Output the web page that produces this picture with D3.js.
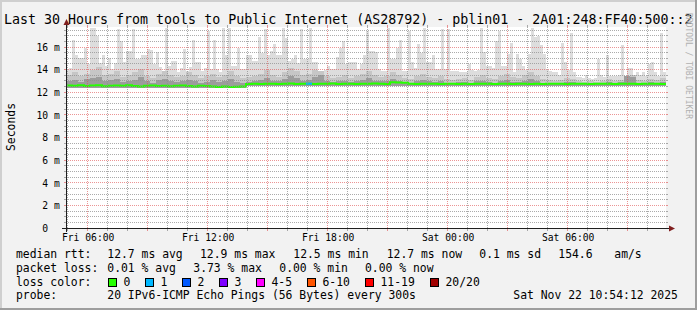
<!DOCTYPE html>
<html><head><meta charset="utf-8">
<script src="https://cdn.jsdelivr.net/npm/d3@7"></script>
<style>
html,body{margin:0;padding:0;background:#f2f2f2;}
svg{display:block;}
text{font-family:"DejaVu Sans Mono",monospace;fill:#000;}
</style></head><body>
<svg id="c" width="697" height="310"></svg>
<script>
// ---------------- data ----------------
const title = "Last 30 Hours from tools to Public Internet (AS28792) - pblin01 - 2A01:248:FF40:500::2";
const yAxisTitle = "Seconds";
const watermark = "RRDTOOL / TOBI OETIKER";
const endTime = Date.UTC(2025, 10, 22, 10, 55, 0);
const spanHours = 30;
const yMax = 17.77;                 // ms
const yTickValues = [0, 2, 4, 6, 8, 10, 12, 14, 16];
const yTickLabels = ["0", "2 m", "4 m", "6 m", "8 m", "10 m", "12 m", "14 m", "16 m"];
const xLabelEveryHours = 6;

// max ping (outer smoke), one value per 9 minutes, ms
const smokeMax = [
 14.0,14.2,16.7,15.3,15.1,15.1,16.0,14.5,17.7,17.7,
 17.0,14.6,15.3,14.4,15.1,14.1,14.6,17.6,16.6,14.7,
 15.7,15.7,17.6,15.0,15.0,15.3,15.3,15.9,15.8,14.5,
 15.6,14.3,13.9,17.7,14.4,14.8,14.8,13.8,14.2,15.9,
 13.9,14.3,16.7,14.7,14.7,13.9,14.2,17.5,14.1,16.7,
 14.1,13.8,17.7,15.3,17.7,14.4,14.4,16.0,14.1,14.1,
 15.3,15.3,14.8,14.8,16.9,15.5,17.6,15.3,15.7,16.3,
 15.3,15.3,17.7,16.8,14.8,15.0,15.3,14.6,17.6,15.0,
 15.0,17.7,14.7,14.7,13.9,13.9,14.0,14.4,14.1,14.1,
 15.2,16.0,16.6,14.5,14.7,14.7,14.7,14.1,14.5,15.3,
 17.5,15.7,15.7,15.6,14.1,13.9,13.9,17.7,15.0,15.0,
 16.0,16.7,13.9,13.9,17.5,14.7,14.2,16.3,15.5,17.7,
 14.7,14.7,15.3,14.1,14.1,17.6,14.1,17.6,13.9,13.9,
 13.9,13.8,13.8,13.8,14.5,14.0,13.9,14.0,17.7,15.6,
 14.4,14.4,14.2,16.6,17.5,14.4,14.4,15.4,16.4,13.8,
 15.4,15.0,14.4,14.0,15.4,17.7,16.9,17.0,16.2,15.4,
 14.0,13.9,13.8,13.8,13.6,16.4,14.7,14.0,17.3,13.8,
 13.4,13.4,13.3,13.6,13.3,13.2,13.3,15.0,13.6,13.4,
 15.3,13.5,13.5,13.5,13.6,16.2,13.5,14.2,14.2,13.6,
 13.8,13.6,13.8,13.5,14.5,14.7,13.8,13.5,17.3,13.8
];
// inner smoke layers, one value per 18 minutes, ms
const smokeMid = [
 13.6,13.8,13.5,13.7,14.0,14.3,13.6,13.7,13.9,13.4,
 13.6,13.8,14.1,13.5,13.3,13.7,13.9,13.6,13.4,13.5,
 13.8,13.6,13.3,13.5,13.7,13.4,13.6,13.9,13.5,13.3,
 13.4,13.5,13.7,14.0,13.6,13.4,13.8,14.2,13.9,13.6,
 13.7,14.0,14.1,13.5,13.3,13.4,13.6,13.3,13.5,13.7,
 13.9,13.6,13.4,13.5,13.8,13.6,13.3,13.2,13.5,13.7,
 13.4,13.3,13.5,13.2,13.1,13.2,13.3,13.1,13.4,13.6,
 13.3,13.2,13.5,13.7,13.4,13.3,13.6,13.8,13.5,13.2,
 13.1,13.0,13.1,13.3,13.2,13.0,12.95,13.0,12.95,13.0,
 13.2,13.0,13.1,14.0,13.6,13.1,13.0,13.2,13.1,13.3
];
const smokeDark = [
 13.0,13.1,12.95,13.2,13.3,13.4,13.0,13.1,13.2,12.95,
 13.0,13.1,13.4,13.0,12.9,13.1,13.2,13.0,12.95,13.0,
 13.1,13.0,12.9,12.95,13.1,12.95,13.0,13.2,12.95,12.9,
 12.95,13.0,13.15,13.3,13.05,13.0,13.2,13.5,13.3,13.05,
 13.1,13.4,13.6,13.05,12.95,13.0,13.05,12.95,13.0,13.15,
 13.3,13.05,13.0,13.0,13.2,13.05,12.95,12.9,13.0,13.1,
 13.0,12.95,13.0,12.9,12.9,12.95,12.95,12.9,13.0,13.05,
 12.95,12.9,13.0,13.15,12.95,12.95,13.05,13.2,13.0,12.9,
 12.9,12.9,12.9,12.95,12.95,12.9,12.9,12.9,12.9,12.9,
 12.95,12.9,12.95,13.8,13.4,12.9,12.9,12.95,12.9,12.95
];
// min ping, one value per 3 hours, ms
const smokeMin = [12.45,12.45,12.4,12.6,12.6,12.6,12.6,12.6,12.6,12.6];
// median rtt, one value per 18 minutes, ms
const medianRtt = [
 12.65,12.62,12.66,12.60,12.64,12.66,12.58,12.63,12.65,12.62,
 12.66,12.60,12.55,12.62,12.65,12.60,12.63,12.58,12.62,12.65,
 12.60,12.56,12.62,12.60,12.55,12.52,12.56,12.50,12.53,12.55,
 12.78,12.80,12.77,12.79,12.80,12.78,12.80,12.81,12.78,12.79,
 12.80,12.77,12.79,12.80,12.82,12.78,12.80,12.79,12.78,12.80,
 12.79,12.81,12.80,12.78,12.92,12.90,12.88,12.80,12.78,12.80,
 12.79,12.80,12.78,12.80,12.79,12.77,12.80,12.78,12.80,12.79,
 12.80,12.78,12.79,12.80,12.78,12.80,12.79,12.77,12.80,12.78,
 12.80,12.79,12.80,12.78,12.80,12.79,12.80,12.78,12.80,12.79,
 12.80,12.78,12.80,12.79,12.80,12.78,12.80,12.79,12.80,12.78
];
// lost pings (of 20), one value per 18 minutes
const lostPings = [
 0,0,0,0,0,0,0,0,0,0, 0,0,0,0,0,0,0,0,0,0,
 0,0,0,0,0,0,0,0,0,0, 0,0,0,0,0,0,0,0,0,0,
 1,0,0,0,0,0,0,0,0,0, 0,0,0,0,0,0,0,0,0,0,
 0,0,0,0,0,0,0,0,0,0, 0,0,0,0,0,0,0,0,0,0,
 0,0,0,0,0,0,0,0,0,0, 0,0,0,0,0,0,0,0,0,0
];
const lossLabels = ["0", "1", "2", "3", "4-5", "6-10", "11-19", "20/20"];
const lossUpper  = [0, 1, 2, 3, 5, 10, 19, 20];
const lossColors = ["#26ff00", "#00b8ff", "#0059ff", "#7e00ff", "#ff00ff", "#ff5500", "#ff0000", "#a10000"];
const rttLabel = "median rtt:";
const rttStats = ["12.7 ms avg", "12.9 ms max", "12.5 ms min", "12.7 ms now", "0.1 ms sd", "154.6", "am/s"];
const lossLabel = "packet loss:";
const lossStats = ["0.01 % avg", "3.73 % max", "0.00 % min", "0.00 % now"];
const lossColorLabel = "loss color:";
const probeLabel = "probe:";
const probeText = "20 IPv6-ICMP Echo Pings (56 Bytes) every 300s";
const stampText = "Sat Nov 22 10:54:12 2025";

// ---------------- layout ----------------
const W = 697, H = 310;
const X0 = 66, XS = 600, Y0 = 228, YS = 201;
const svg = d3.select("#c");
const startTime = endTime - spanHours * 3600e3;
const x = d3.scaleUtc().domain([new Date(startTime), new Date(endTime)]).range([X0, X0 + XS]);
const y = d3.scaleLinear().domain([0, yMax]).range([Y0 + 0.5, Y0 + 0.5 - YS]);
const px = v => Math.floor(v) + 0.5;

// background & shades
svg.append("rect").attr("width", W).attr("height", H).attr("fill", "#f2f2f2");
svg.append("path").attr("d", `M0,0H${W}V2H2V${H}H0Z`).attr("fill", "#cfcfcf");
svg.append("path").attr("d", `M${W},${H}H0V${H-2}H${W-2}V0H${W}Z`).attr("fill", "#9e9e9e");
// canvas
svg.append("rect").attr("x", X0).attr("y", Y0 - YS).attr("width", XS).attr("height", YS + 1).attr("fill", "#fff");

const plot = svg.append("g");
function binX(i, n) {
  const step = (endTime - startTime) / n;
  return [x(new Date(startTime + i * step)), x(new Date(startTime + (i + 1) * step))];
}
function drawLayer(arr, color, lowerFn, capArr) {
  const n = arr.length;
  arr.forEach((v, i) => {
    const [a, b] = binX(i, n);
    const tmid = startTime + (i + 0.5) * (endTime - startTime) / n;
    let top = v;
    if (capArr) {
      // never let an inner layer rise above the outer smoke in the same column
      for (let k = 0; k < capArr.length; k++) {
        const [ca, cb] = binX(k, capArr.length);
        if (cb > a && ca < b) top = Math.min(top, capArr[k]);
      }
    }
    const lo = lowerFn(tmid);
    plot.append("rect").attr("x", a).attr("width", b - a)
      .attr("y", y(top)).attr("height", Math.max(0, y(lo) - y(top)))
      .attr("fill", color).attr("shape-rendering", "crispEdges");
  });
}
const minAt = t => smokeMin[Math.min(smokeMin.length - 1, Math.floor((t - startTime) / ((endTime - startTime) / smokeMin.length)))];
drawLayer(smokeMax, "#dddddd", minAt, null);
drawLayer(smokeMid, "#c6c6c6", minAt, smokeMax);
drawLayer(smokeDark, "#9c9c9c", minAt, smokeMax);

// median line, coloured by loss
const nM = medianRtt.length;
const mPts = medianRtt.map((v, i) => [binX(i, nM)[0], y(v)]);
mPts.push([x(new Date(endTime)), y(medianRtt[nM - 1])]);
plot.append("path").attr("d", d3.line().curve(d3.curveStepAfter)(mPts))
  .attr("fill", "none").attr("stroke", lossColors[0]).attr("stroke-width", 2);
lostPings.forEach((l, i) => {
  if (l > 0) {
    const idx = lossUpper.findIndex(u => l <= u);
    const [a, b] = binX(i, nM);
    plot.append("line").attr("x1", a).attr("x2", b).attr("y1", y(medianRtt[i])).attr("y2", y(medianRtt[i]))
      .attr("stroke", lossColors[idx]).attr("stroke-width", 2);
  }
});

// grid
const gMinor = "rgba(143,143,143,0.75)", gMajor = "rgba(222,79,79,0.6)";
const grid = svg.append("g");
d3.range(1, Math.floor(yMax * 2) + 1).map(k => k / 2).forEach(v => {
  const major = v % 2 === 0;
  const yy = px(y(v) - 0.5) ;
  const c = major ? gMajor : gMinor;
  grid.append("line").attr("x1", X0).attr("x2", X0 + XS).attr("y1", yy).attr("y2", yy)
    .attr("stroke", c).attr("stroke-dasharray", "1,1");
  grid.append("line").attr("x1", X0 - 2).attr("x2", X0).attr("y1", yy).attr("y2", yy).attr("stroke", c);
  grid.append("line").attr("x1", X0 + XS).attr("x2", X0 + XS + 2).attr("y1", yy).attr("y2", yy).attr("stroke", c);
});
const hours = d3.utcHour.every(1).range(new Date(startTime), new Date(endTime));
hours.forEach(h => {
  const major = h.getUTCHours() % 3 === 0;
  const xx = px(x(h));
  const c = major ? gMajor : gMinor;
  grid.append("line").attr("x1", xx).attr("x2", xx).attr("y1", Y0 - YS).attr("y2", Y0)
    .attr("stroke", c).attr("stroke-dasharray", "1,1");
  grid.append("line").attr("x1", xx).attr("x2", xx).attr("y1", Y0 + 1).attr("y2", Y0 + 3).attr("stroke", c);
  grid.append("line").attr("x1", xx).attr("x2", xx).attr("y1", Y0 - YS - 2).attr("y2", Y0 - YS).attr("stroke", c);
});

// axes
const axisC = "#1f1f1f", arrowC = "#801f1f";
svg.append("line").attr("x1", X0 - 4).attr("x2", X0 + XS + 4).attr("y1", Y0 + 0.5).attr("y2", Y0 + 0.5).attr("stroke", axisC);
svg.append("line").attr("x1", X0 + 0.5).attr("x2", X0 + 0.5).attr("y1", Y0 + 4).attr("y2", Y0 - YS - 4).attr("stroke", axisC);
svg.append("path").attr("d", `M${X0 + XS + 3},${Y0 - 2.5}L${X0 + XS + 9},${Y0 + 0.5}L${X0 + XS + 3},${Y0 + 3.5}Z`).attr("fill", arrowC);
svg.append("path").attr("d", `M${X0 - 2.5},${Y0 - YS - 2}L${X0 + 0.5},${Y0 - YS - 8}L${X0 + 3.5},${Y0 - YS - 2}Z`).attr("fill", arrowC);

// axis labels
const axisFont = "9.7px";
yTickValues.forEach((v, i) => {
  svg.append("text").attr("x", v === 0 ? 48 : 59.8).attr("y", y(v) + 3.3)
    .attr("text-anchor", "end").attr("font-size", axisFont).text(yTickLabels[i]);
});
d3.utcHour.every(xLabelEveryHours).range(new Date(startTime), new Date(endTime)).forEach(h => {
  svg.append("text").attr("x", x(h) + 0.5).attr("y", 241.3).attr("text-anchor", "middle")
    .attr("font-size", axisFont).text(d3.utcFormat("%a %H:%M")(h));
});
svg.append("text").attr("transform", "translate(14.6,127) rotate(-90)").attr("text-anchor", "middle")
  .attr("font-size", "11.4px").text(yAxisTitle);

// title
svg.append("text").attr("x", 4).attr("y", 24).attr("font-size", "13.3px").text(title);
// watermark
svg.append("text").attr("transform", "translate(685.5,13) rotate(90)").attr("font-size", "8px")
  .style("fill", "#b0b0b0").text(watermark);

// legend
const lf = "11.4px";
const L1 = 258.3, L2 = 272, L3 = 285.7, L4 = 299.4;
const t = (xx, yy, s) => svg.append("text").attr("x", xx).attr("y", yy).attr("font-size", lf).text(s);
t(16, L1, rttLabel);
const rttX = [107.3, 200, 293.3, 386.7, 479.3, 558.3, 614.3];
rttStats.forEach((s, i) => t(rttX[i], L1, s));
t(16, L2, lossLabel);
const lossX = [107.3, 193.3, 279.3, 365];
lossStats.forEach((s, i) => t(lossX[i], L2, s));
t(16, L3, lossColorLabel);
const boxX = [108.5, 145.5, 182.5, 219.5, 256.5, 307.5, 365.5, 430.5];
lossLabels.forEach((s, i) => {
  svg.append("rect").attr("x", boxX[i]).attr("y", 278.5).attr("width", 8).attr("height", 8)
    .attr("fill", lossColors[i]).attr("stroke", "#000").attr("stroke-width", 1);
  t(boxX[i] + 15, L3, s);
});
t(16, L4, probeLabel);
t(107.3, L4, probeText);
t(513.3, L4, stampText);
</script>
</body></html>
